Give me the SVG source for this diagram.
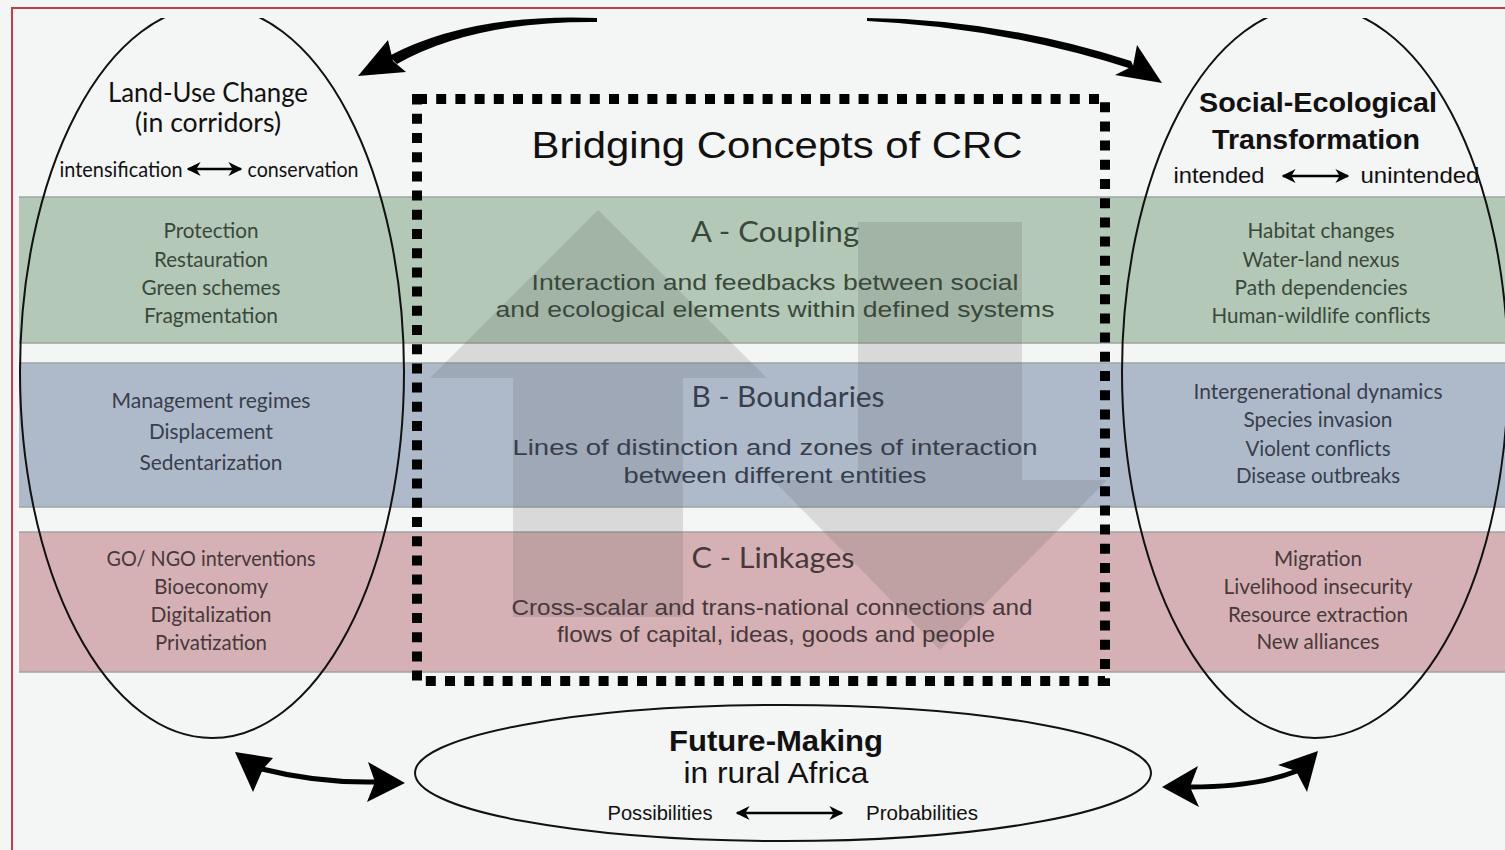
<svg xmlns="http://www.w3.org/2000/svg" width="1505" height="850" viewBox="0 0 1505 850">
<style>
.my{font-family:Lato,"Open Sans","DejaVu Sans",sans-serif;text-anchor:middle}
.ar{font-family:"Liberation Sans",Arial,sans-serif;text-anchor:middle}
.lst{font-size:21px}
.g{fill:#3a483c}.b{fill:#383e4d}.r{fill:#48383b}
.band-line{stroke:#9ea4a0;stroke-width:1.5}
.ell{fill:none;stroke:#111;stroke-width:2}
.dbl{stroke:#000;stroke-width:2.5;fill:none}
.ghost{fill:#555;fill-opacity:0.17}
</style>
<defs>
<marker id="dh" viewBox="0 0 10 10" refX="9" refY="5" markerWidth="14" markerHeight="14" markerUnits="userSpaceOnUse" orient="auto-start-reverse">
<path d="M0,0 L10,5 L0,10 L3,5 Z" fill="#000"/>
</marker>
<clipPath id="top"><rect x="0" y="18" width="1505" height="832"/></clipPath>
</defs>
<rect x="0" y="0" width="1505" height="850" fill="#f4f5f5"/>
<path d="M12,850 L12,8 L1505,8" fill="none" stroke="#c83c48" stroke-width="2"/>

<g id="bands">
<rect x="19" y="197" width="1486" height="146" fill="#b3c8b6"/>
<rect x="19" y="363" width="1486" height="144" fill="#aebaca"/>
<rect x="19" y="532" width="1486" height="140" fill="#d5b1b5"/>
<line class="band-line" x1="19" y1="197" x2="1505" y2="197"/>
<line class="band-line" x1="19" y1="343" x2="1505" y2="343"/>
<line class="band-line" x1="19" y1="363" x2="1505" y2="363"/>
<line class="band-line" x1="19" y1="507" x2="1505" y2="507"/>
<line class="band-line" x1="19" y1="532" x2="1505" y2="532"/>
<line class="band-line" x1="19" y1="672" x2="1505" y2="672"/>
</g>

<g id="ghost-arrows">
<polygon class="ghost" points="598,210 767,378 683,378 683,617 513,617 513,378 430,378"/>
<polygon class="ghost" points="858,222 1022,222 1022,480 1107,480 940,650 773,480 858,480"/>
</g>

<g id="land-use-change">
<ellipse class="ell" cx="212" cy="372" rx="192" ry="366" clip-path="url(#top)"/>
<text class="my" x="208" y="102" font-size="27" fill="#111" textLength="200" lengthAdjust="spacingAndGlyphs">Land-Use Change</text>
<text class="my" x="208" y="132" font-size="27" fill="#111" textLength="146" lengthAdjust="spacingAndGlyphs">(in corridors)</text>
<text class="my" x="121" y="177" font-size="21" fill="#111" textLength="123" lengthAdjust="spacingAndGlyphs">intensification</text>
<line class="dbl" x1="188" y1="169" x2="241" y2="169" marker-start="url(#dh)" marker-end="url(#dh)"/>
<text class="my" x="303" y="177" font-size="21" fill="#111" textLength="111" lengthAdjust="spacingAndGlyphs">conservation</text>
<text class="my lst g" x="211" y="238" textLength="95" lengthAdjust="spacingAndGlyphs">Protection</text>
<text class="my lst g" x="211" y="267" textLength="114" lengthAdjust="spacingAndGlyphs">Restauration</text>
<text class="my lst g" x="211" y="295" textLength="139" lengthAdjust="spacingAndGlyphs">Green schemes</text>
<text class="my lst g" x="211" y="323" textLength="134" lengthAdjust="spacingAndGlyphs">Fragmentation</text>
<text class="my lst b" x="211" y="408" textLength="199" lengthAdjust="spacingAndGlyphs">Management regimes</text>
<text class="my lst b" x="211" y="439" textLength="124" lengthAdjust="spacingAndGlyphs">Displacement</text>
<text class="my lst b" x="211" y="470" textLength="143" lengthAdjust="spacingAndGlyphs">Sedentarization</text>
<text class="my lst r" x="211" y="566" textLength="209" lengthAdjust="spacingAndGlyphs">GO/ NGO interventions</text>
<text class="my lst r" x="211" y="594" textLength="114" lengthAdjust="spacingAndGlyphs">Bioeconomy</text>
<text class="my lst r" x="211" y="622" textLength="121" lengthAdjust="spacingAndGlyphs">Digitalization</text>
<text class="my lst r" x="211" y="650" textLength="112" lengthAdjust="spacingAndGlyphs">Privatization</text>
</g>

<g id="social-ecological-transformation">
<ellipse class="ell" cx="1315" cy="372" rx="193" ry="366" clip-path="url(#top)"/>
<text class="ar" x="1318" y="112" font-size="28" font-weight="bold" fill="#111" textLength="238" lengthAdjust="spacingAndGlyphs">Social-Ecological</text>
<text class="ar" x="1316" y="149" font-size="28" font-weight="bold" fill="#111" textLength="208" lengthAdjust="spacingAndGlyphs">Transformation</text>
<text class="ar" x="1219" y="183" font-size="22" fill="#111" textLength="91" lengthAdjust="spacingAndGlyphs">intended</text>
<line class="dbl" x1="1283" y1="176" x2="1348" y2="176" marker-start="url(#dh)" marker-end="url(#dh)"/>
<text class="ar" x="1420" y="183" font-size="22" fill="#111" textLength="119" lengthAdjust="spacingAndGlyphs">unintended</text>
<text class="my lst g" x="1321" y="238" textLength="147" lengthAdjust="spacingAndGlyphs">Habitat changes</text>
<text class="my lst g" x="1321" y="267" textLength="157" lengthAdjust="spacingAndGlyphs">Water-land nexus</text>
<text class="my lst g" x="1321" y="295" textLength="173" lengthAdjust="spacingAndGlyphs">Path dependencies</text>
<text class="my lst g" x="1321" y="323" textLength="219" lengthAdjust="spacingAndGlyphs">Human-wildlife conflicts</text>
<text class="my lst b" x="1318" y="399" textLength="249" lengthAdjust="spacingAndGlyphs">Intergenerational dynamics</text>
<text class="my lst b" x="1318" y="427" textLength="149" lengthAdjust="spacingAndGlyphs">Species invasion</text>
<text class="my lst b" x="1318" y="456" textLength="145" lengthAdjust="spacingAndGlyphs">Violent conflicts</text>
<text class="my lst b" x="1318" y="483" textLength="164" lengthAdjust="spacingAndGlyphs">Disease outbreaks</text>
<text class="my lst r" x="1318" y="566" textLength="88" lengthAdjust="spacingAndGlyphs">Migration</text>
<text class="my lst r" x="1318" y="594" textLength="189" lengthAdjust="spacingAndGlyphs">Livelihood insecurity</text>
<text class="my lst r" x="1318" y="622" textLength="180" lengthAdjust="spacingAndGlyphs">Resource extraction</text>
<text class="my lst r" x="1318" y="649" textLength="123" lengthAdjust="spacingAndGlyphs">New alliances</text>
</g>

<g id="bridging-concepts">
<rect x="417" y="99" width="688" height="582" fill="none" stroke="#000" stroke-width="10" stroke-dasharray="10 9.2"/>
<text class="ar" x="777" y="158" font-size="37" fill="#111" textLength="491" lengthAdjust="spacingAndGlyphs">Bridging Concepts of CRC</text>
<text class="my g" x="775" y="242" font-size="29" textLength="168" lengthAdjust="spacingAndGlyphs">A - Coupling</text>
<text class="ar g" x="775" y="290" font-size="22" textLength="487" lengthAdjust="spacingAndGlyphs">Interaction and feedbacks between social</text>
<text class="ar g" x="775" y="317" font-size="22" textLength="559" lengthAdjust="spacingAndGlyphs">and ecological elements within defined systems</text>
<text class="my b" x="788" y="407" font-size="29" textLength="193" lengthAdjust="spacingAndGlyphs">B - Boundaries</text>
<text class="ar b" x="775" y="455" font-size="22" textLength="525" lengthAdjust="spacingAndGlyphs">Lines of distinction and zones of interaction</text>
<text class="ar b" x="775" y="483" font-size="22" textLength="303" lengthAdjust="spacingAndGlyphs">between different entities</text>
<text class="my r" x="773" y="568" font-size="29" textLength="163" lengthAdjust="spacingAndGlyphs">C - Linkages</text>
<text class="ar r" x="772" y="615" font-size="22" textLength="521" lengthAdjust="spacingAndGlyphs">Cross-scalar and trans-national connections and</text>
<text class="ar r" x="776" y="642" font-size="22" textLength="438" lengthAdjust="spacingAndGlyphs">flows of capital, ideas, goods and people</text>
</g>

<g id="future-making">
<ellipse class="ell" cx="783" cy="773" rx="368" ry="68"/>
<text class="ar" x="776" y="751" font-size="30" font-weight="bold" fill="#111" textLength="214" lengthAdjust="spacingAndGlyphs">Future-Making</text>
<text class="ar" x="776" y="783" font-size="29" fill="#111" textLength="185" lengthAdjust="spacingAndGlyphs">in rural Africa</text>
<text class="ar" x="660" y="820" font-size="21" fill="#111" textLength="105" lengthAdjust="spacingAndGlyphs">Possibilities</text>
<line class="dbl" x1="737" y1="813" x2="842" y2="813" marker-start="url(#dh)" marker-end="url(#dh)"/>
<text class="ar" x="922" y="820" font-size="21" fill="#111" textLength="112" lengthAdjust="spacingAndGlyphs">Probabilities</text>
</g>

<g id="connectors" fill="#000">
<path d="M597,18 Q471,13 389,56 L397,64 Q473,21 597,22 Z"/>
<polygon points="358,76 388,40 393,61 406,72"/>
<path d="M867,18 Q1000,19 1131,61 L1135,70 Q1001,27 867,21 Z"/>
<polygon points="1162,83 1137,45 1133,66 1115,75"/>
<path d="M262,769 Q317,783 375,782" fill="none" stroke="#000" stroke-width="5"/>
<polygon points="235,752 273,758 263,769 253,792"/>
<polygon points="405,783 368,762 375,782 367,802"/>
<path d="M1190,787 Q1256,787 1297,771" fill="none" stroke="#000" stroke-width="5"/>
<polygon points="1162,787 1198,766 1190,787 1199,807"/>
<polygon points="1318,751 1278,765 1296,771 1307,792"/>
</g>
</svg>
